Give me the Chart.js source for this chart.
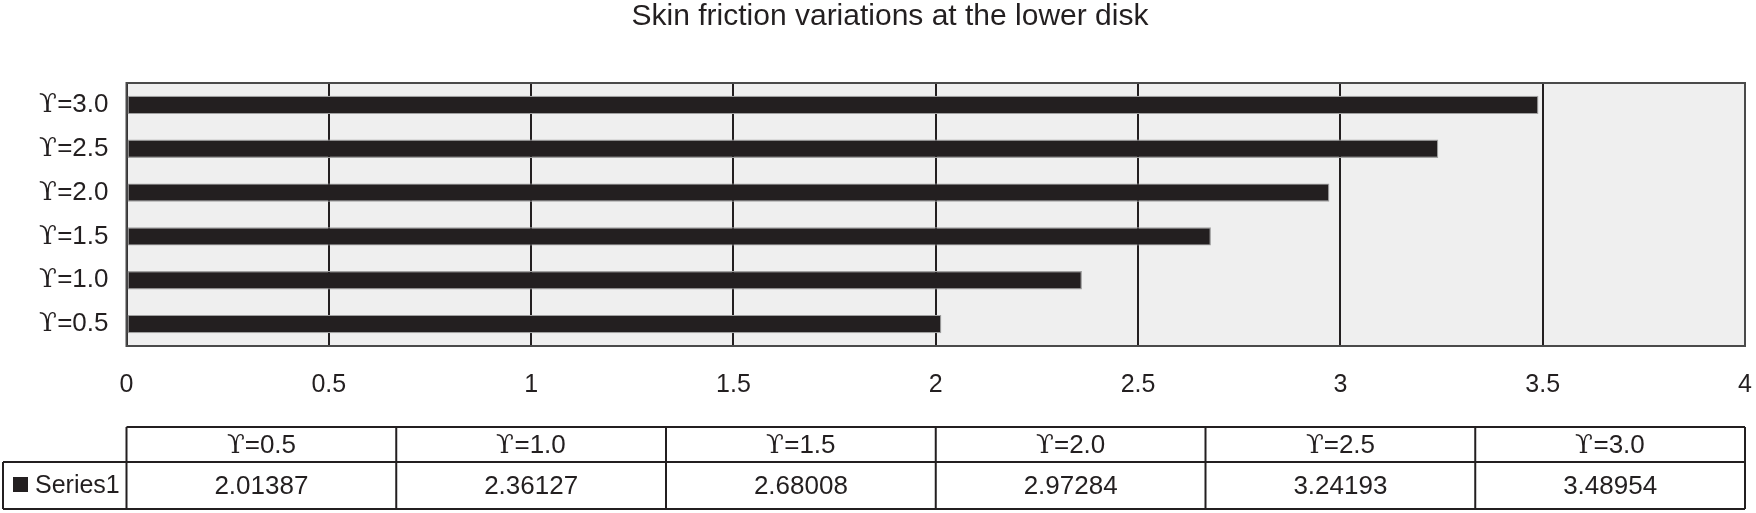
<!DOCTYPE html>
<html>
<head>
<meta charset="utf-8">
<style>
@font-face { font-family: 'UpsSerif'; src: local('DejaVu Serif'); unicode-range: U+03D2; }
html, body { margin: 0; padding: 0; background: #ffffff; }
#wrap { width: 1756px; height: 513px; }
</style>
<script src="https://cdn.jsdelivr.net/npm/chart.js@4.4.1/dist/chart.umd.min.js"></script>
</head>
<body>
<div id="wrap"><canvas id="c" width="1756" height="513"></canvas></div>
<script>
// ---- data ----
const chartTitle = 'Skin friction variations at the lower disk';
const categories = ['\u03D2=0.5', '\u03D2=1.0', '\u03D2=1.5', '\u03D2=2.0', '\u03D2=2.5', '\u03D2=3.0'];
const seriesName = 'Series1';
const series1 = [2.01387, 2.36127, 2.68008, 2.97284, 3.24193, 3.48954];
const xTicks = [0, 0.5, 1, 1.5, 2, 2.5, 3, 3.5, 4];
const tableValues = ['2.01387', '2.36127', '2.68008', '2.97284', '3.24193', '3.48954'];

const INK = '#231f20';
const FAMILY = "UpsSerif, 'Liberation Sans', Arial, sans-serif";

const bgPlugin = {
  id: 'plotBg',
  beforeDraw(chart) {
    const a = chart.chartArea, ctx = chart.ctx;
    ctx.save();
    ctx.fillStyle = '#efefef';
    ctx.fillRect(a.left, a.top, a.right - a.left, a.bottom - a.top);
    ctx.restore();
  },
  afterDatasetsDraw(chart) {
    const a = chart.chartArea, ctx = chart.ctx;
    ctx.save();
    ctx.strokeStyle = '#4a4a4a';
    ctx.lineWidth = 2;
    ctx.strokeRect(a.left, a.top, a.right - a.left, a.bottom - a.top);
    ctx.restore();
  }
};

const tablePlugin = {
  id: 'dataTable',
  afterDraw(chart) {
    const a = chart.chartArea, ctx = chart.ctx;
    const top = a.bottom + 81, mid = a.bottom + 116, bot = a.bottom + 163;
    const outerLeft = 3;
    const n = categories.length;
    const w = (a.right - a.left) / n;
    ctx.save();
    ctx.strokeStyle = INK;
    ctx.lineWidth = 2;
    ctx.beginPath();
    ctx.moveTo(a.left, top); ctx.lineTo(a.right, top);
    ctx.moveTo(outerLeft, mid); ctx.lineTo(a.right, mid);
    ctx.moveTo(outerLeft, bot); ctx.lineTo(a.right, bot);
    ctx.moveTo(outerLeft, mid); ctx.lineTo(outerLeft, bot);
    for (let i = 0; i <= n; i++) {
      const x = a.left + i * w;
      ctx.moveTo(x, top); ctx.lineTo(x, bot);
    }
    ctx.stroke();
    ctx.fillStyle = INK;
    ctx.textAlign = 'center';
    ctx.textBaseline = 'middle';
    ctx.font = '26px ' + FAMILY;
    for (let i = 0; i < n; i++) {
      const cx = a.left + (i + 0.5) * w;
      ctx.fillText(categories[i], cx, (top + mid) / 2 + 1);
      ctx.fillText(tableValues[i], cx, (mid + bot) / 2 + 1);
    }
    ctx.fillRect(13, 477, 15, 15);
    ctx.textAlign = 'left';
    ctx.font = '25px ' + FAMILY;
    ctx.fillText(seriesName, 35, (mid + bot) / 2 + 1);
    ctx.restore();
  }
};

function make() {
  new Chart(document.getElementById('c'), {
    type: 'bar',
    data: {
      labels: categories,
      datasets: [{
        label: seriesName,
        data: series1,
        backgroundColor: INK,
        borderColor: '#a0a0a0',
        borderWidth: 1.2,
        borderSkipped: false,
        barPercentage: 0.42,
        categoryPercentage: 1.0
      }]
    },
    options: {
      indexAxis: 'y',
      responsive: false,
      animation: false,
      layout: { padding: { left: 24, right: 0, top: 0, bottom: 0 } },
      plugins: {
        legend: { display: false },
        tooltip: { enabled: false },
        title: {
          display: true,
          text: chartTitle,
          color: INK,
          font: { family: FAMILY, size: 30, weight: 'normal', lineHeight: 1.0 },
          padding: { top: 2, bottom: 51 }
        }
      },
      scales: {
        x: {
          min: 0, max: 4,
          afterBuildTicks(scale) { scale.ticks = xTicks.map(v => ({ value: v })); },
          afterFit(scale) { scale.height = 167; scale.paddingRight = 11; scale.paddingLeft = 0; },
          ticks: {
            color: INK,
            padding: 24,
            font: { family: FAMILY, size: 25 },
            callback: (v) => String(v)
          },
          grid: { display: true, color: INK, lineWidth: 2, drawTicks: false },
          border: { display: false }
        },
        y: {
          reverse: true,
          afterFit(scale) { scale.width = 102.5; },
          ticks: {
            color: INK,
            padding: 18,
            font: { family: FAMILY, size: 26 }
          },
          grid: { display: false, drawTicks: false },
          border: { display: false }
        }
      }
    },
    plugins: [bgPlugin, tablePlugin]
  });
}

if (document.fonts && document.fonts.load) {
  document.fonts.load('26px UpsSerif', '\u03D2').then(make, make);
} else {
  make();
}
</script>
</body>
</html>
